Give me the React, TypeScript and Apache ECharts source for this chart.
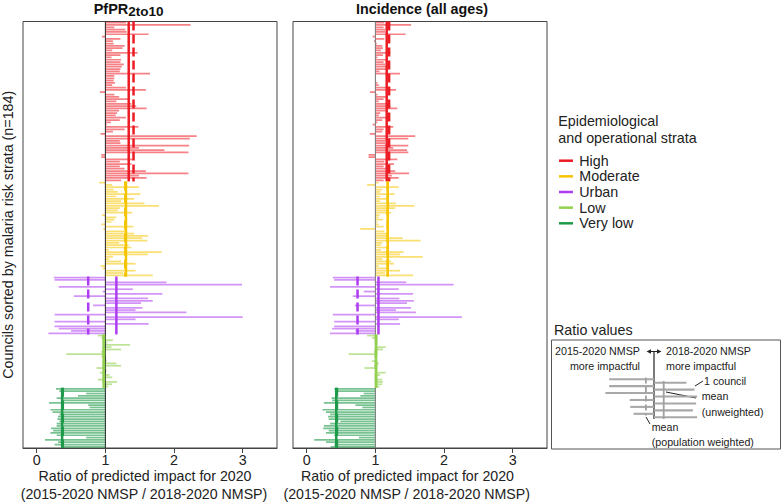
import React, { useEffect, useRef } from "react";
import * as echarts from "echarts";

const FONT = "'Liberation Sans', Arial, sans-serif";

const strataNames = ["High", "Moderate", "Urban", "Low", "Very low"];
const strataColors = ["#EC1C24", "#F5C400", "#AE3CF2", "#92D050", "#1E9A4A"];
const strataBarColors = [
  "rgba(236,28,36,0.55)",
  "rgba(245,196,0,0.55)",
  "rgba(174,60,242,0.55)",
  "rgba(146,208,80,0.6)",
  "rgba(30,154,74,0.6)",
];

const xTicks = [0, 1, 2, 3];

// PfPR 2to10 panel — ratio per council, sorted by strata
const pfprHigh = [
  1.30, 2.24, 1.13, 1.29, 1.31, 1.63, 0.95, 1.22, 1.11, 1.12,
  1.28, 1.25, 1.10, 1.47, 1.22, 1.09, 1.23, 1.22, 1.27, 1.24,
  1.22, 1.21, 1.65, 1.13, 1.13, 1.12, 1.14, 1.10, 1.30, 1.59,
  0.92, 1.13, 1.20, 1.36, 1.16, 1.38, 1.45, 1.60, 1.20, 1.17,
  1.15, 1.30, 1.21, 1.08, 1.02, 1.48, 1.28, 1.11, 0.93, 2.33,
  2.23, 1.21, 1.22, 2.22, 1.49, 1.86, 2.21, 0.94, 0.94, 1.40,
  1.21, 1.38, 1.21, 1.28, 1.59, 2.21, 1.49, 1.60, 1.23,
];
const pfprModerate = [
  0.91, 1.10, 1.49, 1.12, 1.18, 1.51, 1.16, 1.42, 1.23, 1.57,
  1.78, 1.21, 1.18, 1.39, 0.95, 1.16, 1.13, 1.09, 0.94, 1.41,
  0.97, 1.30, 1.42, 1.62, 1.54, 1.61, 1.20, 1.34, 1.38, 1.05,
  1.82, 1.62, 1.11, 1.06, 1.23, 1.44, 0.93, 0.96, 1.44, 1.26,
  1.69,
];
const pfprUrban = [
  0.25, 0.26, 1.89, 2.99, 0.32, 1.40, 0.96, 1.83, 0.54, 1.62,
  1.69, 1.52, 0.82, 1.54, 1.44, 2.18, 0.26, 3.00, 1.44, 0.26,
  1.63, 0.26, 0.32, 0.50, 0.17,
];
const pfprLow = [
  0.89, 0.94, 1.11, 1.03, 1.36, 1.09, 1.23, 0.94, 0.43, 0.94,
  0.97, 1.02, 1.16, 1.23, 0.87, 1.02, 0.92, 1.06, 1.10, 0.89,
  1.17, 1.10, 1.04,
];
const pfprVeryLow = [
  0.28, 0.33, 0.72, 0.60, 0.29, 0.36, 0.18, 0.75, 0.77, 0.20,
  0.23, 0.33, 0.31, 0.30, 0.33, 0.29, 0.29, 0.21, 0.24, 0.20,
  0.29, 0.72, 0.12, 0.31, 0.26, 0.38,
];
const pfprMeanUnweighted = [1.34, 1.30, 1.16, 0.975, 0.37];
const pfprMeanWeighted = [1.41, 1.29, 0.75, 0.98, 0.38];

// Incidence (all ages) panel
const incHigh = [
  1.13, 1.52, 1.12, 1.14, 1.14, 1.44, 0.96, 1.13, 0.98, 1.02,
  1.10, 1.11, 1.08, 1.22, 1.11, 1.03, 1.17, 1.12, 1.14, 1.17,
  1.17, 1.06, 1.36, 1.00, 1.00, 1.01, 1.03, 1.05, 1.19, 1.30,
  0.92, 1.03, 1.16, 1.12, 1.05, 1.20, 1.22, 1.32, 1.17, 1.07,
  1.05, 1.17, 1.10, 1.03, 0.96, 1.26, 1.12, 1.10, 0.92, 1.58,
  1.48, 1.14, 1.14, 1.48, 1.26, 1.46, 1.48, 0.90, 0.90, 1.32,
  1.13, 1.27, 1.12, 1.18, 1.29, 1.49, 1.24, 1.34, 1.12,
];
const incModerate = [
  1.05, 0.88, 1.34, 1.10, 1.07, 1.28, 1.07, 1.19, 1.07, 1.30,
  1.57, 1.29, 1.17, 1.23, 1.06, 1.05, 1.11, 1.03, 1.05, 1.12,
  0.78, 1.13, 1.19, 1.17, 1.40, 1.66, 1.10, 1.08, 1.19, 1.08,
  1.41, 1.36, 1.69, 1.10, 1.23, 1.27, 1.05, 1.17, 1.36, 1.14,
  1.55,
];
const incUrban = [
  0.38, 0.40, 1.45, 2.14, 0.34, 1.34, 0.83, 1.55, 0.67, 1.35,
  1.56, 1.46, 0.70, 1.52, 1.30, 1.59, 0.38, 2.26, 1.34, 0.40,
  1.36, 0.40, 0.37, 0.71, 0.34,
];
const incLow = [
  0.88, 0.95, 1.01, 1.03, 1.03, 1.15, 1.11, 0.98, 0.61, 0.98,
  1.02, 0.95, 1.05, 0.98, 0.84, 1.03, 1.15, 1.07, 1.01, 1.10,
  1.11, 1.10, 1.06,
];
const incVeryLow = [
  0.40, 0.41, 0.83, 0.78, 0.36, 0.37, 0.25, 0.71, 0.81, 0.23,
  0.28, 0.34, 0.31, 0.32, 0.49, 0.34, 0.25, 0.24, 0.32, 0.28,
  0.40, 0.76, 0.11, 0.28, 0.40, 0.35,
];
const incMeanUnweighted = [1.165, 1.18, 1.045, 1.01, 0.43];
const incMeanWeighted = [1.2, 1.18, 0.74, 1.01, 0.44];

// Schematic legend ("Ratio values") example councils
const insetValues = [0.17, 1.6, 0.17, 1.75, 0.1, 1.8, 0.55, 1.78, 0.56, 1.72, 0.62, 1.8];
const insetMeanWeighted = 0.85;
const insetMeanUnweighted = 1.18;

const panelTitle2 = "Incidence (all ages)";
const xAxisTitle1 = "Ratio of predicted impact for 2020";
const xAxisTitle2 = "(2015-2020 NMSP / 2018-2020 NMSP)";
const yAxisTitle = "Councils sorted by malaria risk strata (n=184)";

function buildBars(groups: number[][]) {
  const out: number[][] = [];
  let idx = 0;
  groups.forEach((g, s) => g.forEach((v) => { out.push([v, idx, s]); idx++; }));
  return out;
}
function buildMeans(groups: number[][], unw: number[], wtd: number[]) {
  const out: number[][] = [];
  let start = 0;
  groups.forEach((g, s) => {
    out.push([unw[s], start, start + g.length - 1, s, 0]);
    out.push([wtd[s], start, start + g.length - 1, s, 1]);
    start += g.length;
  });
  const total = start;
  out.push([1, 0, total - 1, -1, 0]);
  return out;
}

function makeBarRender(colorFn: (s: number) => string, frac: number) {
  return (params: any, api: any) => {
    const v = api.value(0);
    const idx = api.value(1);
    const s = api.value(2);
    const p0 = api.coord([1, idx]);
    const p1 = api.coord([v, idx]);
    const h = api.size([0, 1])[1] * frac;
    return {
      type: "rect",
      shape: { x: Math.min(p0[0], p1[0]), y: p0[1] - h / 2, width: Math.abs(p1[0] - p0[0]), height: h },
      style: { fill: colorFn(s) },
    };
  };
}
function makeMeanRender(colorFn: (s: number) => string, refColor: string, width: number, dash: number[]) {
  return (params: any, api: any) => {
    const m = api.value(0);
    const a = api.value(1);
    const b = api.value(2);
    const s = api.value(3);
    const d = api.value(4);
    const band = api.size([0, 1])[1];
    const p1 = api.coord([m, a]);
    const p2 = api.coord([m, b]);
    const isRef = s < 0;
    return {
      type: "line",
      z2: isRef ? 5 : 10,
      shape: { x1: p1[0], y1: p1[1] - band / 2, x2: p2[0], y2: p2[1] + band / 2 },
      style: {
        stroke: isRef ? refColor : colorFn(s),
        lineWidth: isRef ? 1 : width,
        lineDash: d ? dash : null,
      },
    };
  };
}

export default function App() {
  const ref = useRef<HTMLDivElement>(null);
  useEffect(() => {
    if (!ref.current) return;
    const chart = echarts.init(ref.current, null, { renderer: "svg" });
    const pfprGroups = [pfprHigh, pfprModerate, pfprUrban, pfprLow, pfprVeryLow];
    const incGroups = [incHigh, incModerate, incUrban, incLow, incVeryLow];
    const nCouncils = pfprGroups.reduce((a, g) => a + g.length, 0);
    const councils = Array.from({ length: nCouncils }, (_, i) => String(i + 1));
    const insetRows = insetValues.map((_, i) => String(i + 1));

    const valueAxis = (gridIndex: number) => ({
      gridIndex,
      type: "value",
      min: -0.2,
      max: 3.5,
      splitNumber: 4,
      splitLine: { show: false },
      axisLine: { show: true, onZero: false, lineStyle: { color: "#444", width: 1 } },
      axisTick: { show: true, inside: false, length: 5, customValues: xTicks, lineStyle: { color: "#444" } },
      axisLabel: { customValues: xTicks, fontSize: 14.3, color: "#222", margin: 5, fontFamily: FONT },
    });
    const catAxis = (gridIndex: number, withName: boolean) => ({
      gridIndex,
      type: "category",
      data: councils,
      inverse: true,
      axisLine: { show: false },
      axisTick: { show: false },
      axisLabel: { show: false },
      splitLine: { show: false },
      name: withName ? yAxisTitle : "",
      nameLocation: "middle",
      nameRotate: 90,
      nameGap: 8,
      nameTextStyle: { fontSize: 14.3, color: "#222", fontFamily: FONT },
    });

    const strataColorFn = (s: number) => strataColors[s];
    const strataBarFn = (s: number) => strataBarColors[s];

    const series: any[] = [];
    [pfprGroups, incGroups].forEach((groups, p) => {
      const unw = p === 0 ? pfprMeanUnweighted : incMeanUnweighted;
      const wtd = p === 0 ? pfprMeanWeighted : incMeanWeighted;
      series.push({
        type: "custom",
        xAxisIndex: p,
        yAxisIndex: p,
        silent: true,
        clip: true,
        z: 2,
        encode: { x: 0, y: 1 },
        renderItem: makeBarRender(strataBarFn, 0.75),
        data: buildBars(groups),
      });
      series.push({
        type: "custom",
        xAxisIndex: p,
        yAxisIndex: p,
        silent: true,
        z: 3,
        encode: { x: 0, y: 1 },
        renderItem: makeMeanRender(strataColorFn, p === 0 ? "#222" : "#777", 2.5, [9, 4]),
        data: buildMeans(groups, unw, wtd),
      });
    });
    // inset schematic
    series.push({
      type: "custom",
      xAxisIndex: 2,
      yAxisIndex: 2,
      silent: true,
      z: 2,
      encode: { x: 0, y: 1 },
      renderItem: makeBarRender(() => "#A8A8A8", 0.6),
      data: insetValues.map((v, i) => [v, i, 0]),
    });
    series.push({
      type: "custom",
      xAxisIndex: 2,
      yAxisIndex: 2,
      silent: true,
      z: 3,
      encode: { x: 0, y: 1 },
      renderItem: makeMeanRender(() => "#A0A0A0", "#222", 1.8, [6, 3]),
      data: [
        [insetMeanWeighted, 0, insetValues.length - 2, 0, 1],
        [insetMeanUnweighted, 1, insetValues.length - 1, 0, 0],
      ],
    });

    const txt = (text: string, x: number, y: number, opts: any = {}) => ({
      type: "text",
      x,
      y,
      silent: true,
      style: {
        text,
        fill: opts.fill || "#222",
        fontSize: opts.fontSize || 14.3,
        fontFamily: FONT,
        fontWeight: opts.fontWeight || "normal",
        align: opts.align || "left",
        verticalAlign: "middle",
      },
    });
    const seg = (x1: number, y1: number, x2: number, y2: number, stroke: string, lineWidth: number) => ({
      type: "line",
      silent: true,
      shape: { x1, y1, x2, y2 },
      style: { stroke, lineWidth },
    });

    const graphics: any[] = [
      txt("PfPR", 128.3, 8.5, { fontWeight: "bold", fontSize: 14.5, align: "right", fill: "#111" }),
      txt("2to10", 128.3, 11.5, { fontWeight: "bold", fontSize: 13.5, align: "left", fill: "#111" }),
      txt(panelTitle2, 422, 9, { fontWeight: "bold", fontSize: 14.3, align: "center", fill: "#111" }),
      txt(xAxisTitle1, 145, 476, { align: "center", fontSize: 14.2 }),
      txt(xAxisTitle2, 144, 494, { align: "center", fontSize: 14.2 }),
      txt(xAxisTitle1, 407.5, 476, { align: "center", fontSize: 14.2 }),
      txt(xAxisTitle2, 406.7, 494, { align: "center", fontSize: 14.2 }),
      txt("Epidemiological", 558.3, 120.7),
      txt("and operational strata", 558.3, 138),
    ];
    strataNames.forEach((name, i) => {
      const y = 160.7 + i * 15.65;
      graphics.push(seg(559, y, 573, y, strataColors[i], 2.5));
      graphics.push(txt(name, 579.3, y));
    });
    graphics.push(txt("Ratio values", 554, 330));
    graphics.push({
      type: "rect",
      silent: true,
      shape: { x: 551.5, y: 340, width: 229, height: 109 },
      style: { fill: "none", stroke: "#555", lineWidth: 1 },
    });
    const fs = 10.7;
    graphics.push(txt("2015-2020 NMSP", 555, 350.7, { fontSize: fs }));
    graphics.push(txt("more impactful", 640, 366, { fontSize: fs, align: "right" }));
    graphics.push(txt("2018-2020 NMSP", 666, 350.7, { fontSize: fs }));
    graphics.push(txt("more impactful", 666, 366, { fontSize: fs }));
    graphics.push(txt("1 council", 704, 381, { fontSize: fs }));
    graphics.push(txt("mean", 701.7, 396, { fontSize: fs }));
    graphics.push(txt("(unweighted)", 701.7, 411.7, { fontSize: fs }));
    graphics.push(txt("mean", 651.7, 427.3, { fontSize: fs }));
    graphics.push(txt("(population weighted)", 651.7, 441.7, { fontSize: fs }));
    graphics.push(seg(654, 351.5, 654, 419, "#222", 1.2));
    graphics.push(seg(649, 351.5, 659, 351.5, "#222", 1));
    graphics.push({
      type: "polygon",
      silent: true,
      shape: { points: [[646.5, 351.5], [651, 349.3], [651, 353.7]] },
      style: { fill: "#222" },
    });
    graphics.push({
      type: "polygon",
      silent: true,
      shape: { points: [[661.5, 351.5], [657, 349.3], [657, 353.7]] },
      style: { fill: "#222" },
    });
    graphics.push(seg(695, 386, 703, 381, "#222", 1));
    graphics.push(seg(666, 392, 696, 398, "#222", 1));
    graphics.push(seg(646, 417, 650, 424, "#222", 1));

    chart.setOption({
      animation: false,
      grid: [
        { left: 23, top: 21.5, width: 254, height: 426.5, show: true, borderColor: "#444", borderWidth: 1, backgroundColor: "transparent" },
        { left: 293, top: 21.5, width: 254, height: 426.5, show: true, borderColor: "#444", borderWidth: 1, backgroundColor: "transparent" },
        { left: 600, top: 377.5, width: 108, height: 41.5, show: false },
      ],
      xAxis: [
        valueAxis(0),
        valueAxis(1),
        { gridIndex: 2, type: "value", min: 0, max: 2, show: false },
      ],
      yAxis: [
        catAxis(0, true),
        catAxis(1, false),
        { gridIndex: 2, type: "category", data: insetRows, inverse: true, show: false },
      ],
      series,
      graphic: graphics,
    });
    return () => chart.dispose();
  }, []);
  return (
    <div
      ref={ref}
      style={{ position: "fixed", left: 0, top: 0, width: 783, height: 504, background: "#fff" }}
    />
  );
}
